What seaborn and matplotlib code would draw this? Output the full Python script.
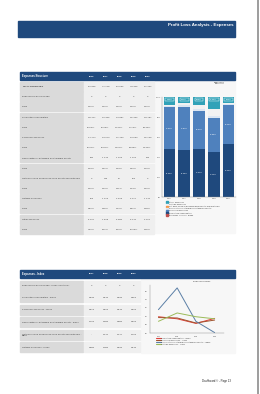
import pandas as pd
import matplotlib.pyplot as plt
import seaborn as sns
from matplotlib.patches import Rectangle, Patch
from matplotlib.lines import Line2D

# Data
years = ['2016', '2017', '2018', '2019', '2020']
index_years = ['2017', '2018', '2019', '2020']

total = [80906, 77148, 82565, 78306, 91362]
iron = [0, 0, 0, 0, 0]
iron_share = [0.00, 0.00, 0.00, 0.00, 0.00]
production = [38447, 36306, 39887, 35332, 48787]
production_share = [47.52, 47.06, 48.31, 45.12, 53.40]
personnel = [34474, 33073, 31433, 26593, 35129]
personnel_share = [42.61, 42.87, 38.07, 33.96, 38.45]
depreciation = [995, 1242, 1263, 1425, 932]
depreciation_share = [1.23, 1.61, 1.53, 1.82, 1.02]
netbook = [0, 386, 91, 102, 0]
netbook_share = [0.00, 0.50, 0.11, 0.13, 0.00]
outside = [663, 1273, 2906, 5411, 1444]
outside_share = [0.82, 1.65, 3.52, 6.91, 1.58]
other = [6327, 4868, 6985, 9444, 5071]
other_share = [7.82, 6.31, 8.46, 12.06, 5.55]

iron_idx = [0, 0, 0, 0]
production_idx = [0.99, 0.94, 0.83, 0.95]
personnel_idx = [0.97, 0.96, 0.84, 0.91]
depreciation_idx = [1.16, 1.68, 0.88, 0.61]
netbook_idx = [None, 0.244, 0.247, 1.010]
outside_idx = [0.88, 1.08, 0.99, 0.94]

sns.set_theme(style="white")
plt.rcParams['font.family'] = ['Liberation Sans', 'DejaVu Sans']

NAVY = '#1f497d'
TXT = '#444444'
W, H = 260, 394

fig = plt.figure(figsize=(W / 100, H / 100), dpi=100)
bg = fig.add_axes([0, 0, 1, 1])
bg.set_xlim(0, W)
bg.set_ylim(H, 0)
bg.axis('off')


def fig_box(x0, y0, x1, y1):
    return [x0 / W, 1 - y1 / H, (x1 - x0) / W, (y1 - y0) / H]


def fmt_num(v):
    return f"{v:,.0f}".replace(',', ' ')


def fmt_idx(v):
    if v is None:
        return '-'
    if v == 0:
        return '0'
    return f"{v:.3f}"


# page edge and title bar
bg.plot([258, 258], [0, H], color='#8c8c8c', lw=1.2)
bg.add_patch(Rectangle((18, 21), 217, 16, color=NAVY))
bg.text(233, 25, 'Profit Loss Analysis - Expenses', color='white', fontsize=3.2,
        fontweight='bold', ha='right', va='center')

# light panels behind the charts
bg.add_patch(Rectangle((155, 81), 80, 152, color='#f7f7f7'))
bg.add_patch(Rectangle((141, 279), 94, 74, color='#f7f7f7'))


def draw_table(y_head, title, cols, col_x, rows, centers, row_h, val_x1):
    bg.add_patch(Rectangle((20, y_head - 4), 215, 8, color=NAVY))
    bg.text(22, y_head, title, color='white', fontsize=2.0, fontweight='bold', va='center')
    for c, x in zip(cols, col_x):
        bg.text(x, y_head, c, color='white', fontsize=1.7, fontweight='bold',
                ha='center', va='center')
    for (label, vals, fmt, bold), yc in zip(rows, centers):
        bg.add_patch(Rectangle((20, yc - row_h / 2), 63, row_h, color='#dadada'))
        bg.add_patch(Rectangle((84, yc - row_h / 2), val_x1 - 84, row_h, color='#efefef'))
        bg.text(22, yc, label, fontsize=1.7, va='center', color=TXT,
                fontweight='bold' if bold else 'normal', linespacing=1.1)
        for v, x in zip(vals, col_x):
            bg.text(x, yc, fmt(v), fontsize=1.7, ha='center', va='center', color=TXT)


pct = lambda v: f"{v:.2f}%"
top_rows = [
    ('TOTAL EXPENSES', total, fmt_num, True),
    ('Expenses in iron(s) grade', iron, fmt_num, False),
    ('share', iron_share, pct, False),
    ('Production consumption', production, fmt_num, False),
    ('share', production_share, pct, False),
    ('Personnel expenses', personnel, fmt_num, False),
    ('share', personnel_share, pct, False),
    ('Depreciation of intangible and tangible assets', depreciation, fmt_num, False),
    ('share', depreciation_share, pct, False),
    ('Net book value of disposed fixed assets and materials', netbook, fmt_num, False),
    ('share', netbook_share, pct, False),
    ('Outside expenses', outside, fmt_num, False),
    ('share', outside_share, pct, False),
    ('Other expenses', other, fmt_num, False),
    ('share', other_share, pct, False),
]
top_centers = [86.5 + 10.2 * i for i in range(len(top_rows))]
draw_table(76.3, 'Expenses Structure', years, [91.5, 105.5, 119.5, 133.5, 147.5],
           top_rows, top_centers, 9.0, 154)

bottom_rows = [
    ('Expenses in iron(s) grade - index (right axis)', iron_idx, fmt_idx, False),
    ('Production consumption - index', production_idx, fmt_idx, False),
    ('Personnel expenses - index', personnel_idx, fmt_idx, False),
    ('Depreciation of intangible and tangible assets - index', depreciation_idx, fmt_idx, False),
    ('Net book value of disposed fixed assets and materials -\nindex', netbook_idx, fmt_idx, False),
    ('Outside expenses - index', outside_idx, fmt_idx, False),
]
bottom_centers = [285.5, 297.0, 309.5, 322.0, 334.5, 347.0]
draw_table(273.8, 'Expenses - Index', index_years, [91.5, 105.5, 119.5, 133.5],
           bottom_rows, bottom_centers, 10.0, 140)

# ---- stacked 100% bar chart ----
stack_names = ['Expenses in iron(s) grade', 'Production consumption', 'Personnel expenses',
               'Depreciation of intangible and tangible assets',
               'Net book value of disposed fixed assets and materials',
               'Outside expenses', 'Other expenses']
stack_vals = [iron_share, production_share, personnel_share, depreciation_share,
              netbook_share, outside_share, other_share]
stack_colors = ['#c0504d', '#1f497d', '#4f81bd', '#dce6f2', '#f79646', '#f2f2f2', '#31a2b8']

shares = pd.DataFrame(dict(zip(stack_names, stack_vals)), index=years)
cum = shares.cumsum(axis=1)

ax = fig.add_axes(fig_box(162, 97, 236, 197))
for name, col in reversed(list(zip(stack_names, stack_colors))):
    sns.barplot(x=years, y=cum[name].values, color=col, saturation=1, width=0.78,
                ax=ax, linewidth=0)
for i, y in enumerate(years):
    base = cum.loc[y, 'Expenses in iron(s) grade']
    p = shares.loc[y, 'Production consumption']
    ax.text(i, base + p / 2, pct(p), color='white', fontsize=1.5, ha='center', va='center')
    q = shares.loc[y, 'Personnel expenses']
    ax.text(i, cum.loc[y, 'Production consumption'] + q / 2, pct(q), color='white',
            fontsize=1.5, ha='center', va='center')
    ax.text(i, 97.5, pct(shares.loc[y, 'Other expenses']), color='white', fontsize=1.5,
            ha='center', va='center',
            bbox=dict(boxstyle='square,pad=0.7', fc='#31a2b8', ec='white', lw=0.3))
ax.set_ylim(0, 100)
ax.set_xlim(-0.5, 4.5)
ax.set_yticks([0, 20, 40, 60, 80, 100])
ax.set_yticklabels(['0%', '20%', '40%', '60%', '80%', '100%'])
ax.tick_params(labelsize=1.5, length=0, pad=1, colors=TXT)
ax.set_facecolor('none')
sns.despine(ax=ax)
for s in ['left', 'bottom']:
    ax.spines[s].set_linewidth(0.3)
    ax.spines[s].set_color('#888888')
ax.text(0.84, 1.14, 'Expenses\nStructure', transform=ax.transAxes, fontsize=1.7,
        ha='right', va='center', color=TXT, linespacing=1.0)

handles = [Patch(color=c, label=n) for n, c in zip(stack_names, stack_colors)][::-1]
fig.legend(handles=handles, loc='upper left', bbox_to_anchor=(166 / W, 1 - 201.5 / H),
           fontsize=1.5, frameon=False, handlelength=0.9, handleheight=0.8,
           labelspacing=0.25, handletextpad=0.4, borderaxespad=0, borderpad=0,
           labelcolor=TXT)

# ---- index line chart ----
line_names = ['Production consumption - index', 'Personnel expenses - index',
              'Depreciation of intangible and tangible assets - index',
              'Outside expenses - index']
line_vals = [production_idx, personnel_idx, depreciation_idx, outside_idx]
line_colors = ['#e0403a', '#a0522d', '#5b7fa6', '#9bbb59']

long_df = pd.DataFrame([
    {'year': y, 'series': n, 'index': v}
    for n, vals in zip(line_names, line_vals) for y, v in zip(index_years, vals)
])

ax2 = fig.add_axes(fig_box(150, 285, 224, 333))
sns.lineplot(data=long_df, x='year', y='index', hue='series', hue_order=line_names,
             palette=dict(zip(line_names, line_colors)), linewidth=0.7, legend=False, ax=ax2)
ax2.set_xlim(-0.45, 3.5)
ax2.set_ylim(0.6, 1.75)
ax2.set_yticks([0.6, 0.8, 1.0, 1.2, 1.4, 1.6])
ax2.set_xlabel('')
ax2.set_ylabel('')
ax2.tick_params(labelsize=1.4, length=1, width=0.3, pad=1, colors=TXT)
ax2.set_facecolor('none')
sns.despine(ax=ax2)
for s in ['left', 'bottom']:
    ax2.spines[s].set_linewidth(0.3)
    ax2.spines[s].set_color('#888888')
bg.text(202, 282, 'Expenses index', fontsize=1.7, ha='center', va='center', color=TXT)

lhandles = [Line2D([0], [0], color=c, lw=0.8, label=n) for n, c in zip(line_names, line_colors)]
fig.legend(handles=lhandles, loc='upper left', bbox_to_anchor=(156 / W, 1 - 337.5 / H),
           fontsize=1.5, frameon=False, handlelength=2.2, labelspacing=0.3,
           handletextpad=0.4, borderaxespad=0, borderpad=0, labelcolor=TXT)

# footer
bg.text(231, 381, 'Dashboard \u00a9 - Page 13', fontsize=2.0, ha='right', va='center',
        color='#222222')

fig.savefig('out.png', dpi=100)
